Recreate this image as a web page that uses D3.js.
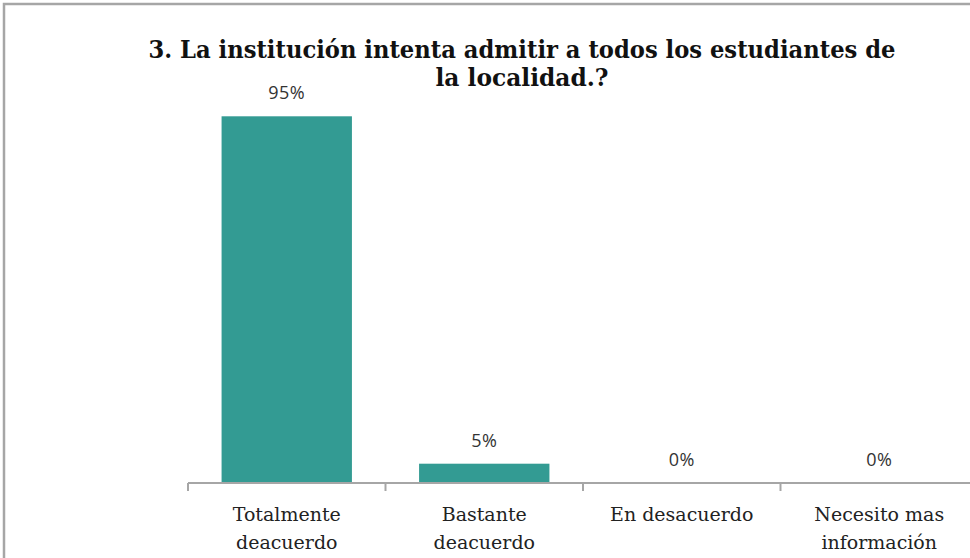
<!DOCTYPE html>
<html>
<head>
<meta charset="utf-8">
<script src="https://cdn.jsdelivr.net/npm/d3@7"></script>
<style>
  body { margin: 0; background: #fff; }
  svg { display: block; }
</style>
</head>
<body>
<svg id="chart" width="970" height="558"></svg>
<script>
// datos del grafico
var categories = ["Totalmente deacuerdo", "Bastante deacuerdo", "En desacuerdo", "Necesito mas información"];
var categoryLines = [["Totalmente", "deacuerdo"], ["Bastante", "deacuerdo"], ["En desacuerdo"], ["Necesito mas", "información"]];
var values = [95, 5, 0, 0];
var valueLabels = ["95%", "5%", "0%", "0%"];
var titleLines = ["3. La institución  intenta admitir  a todos los estudiantes de", "la localidad.?"];

var serif = '"DejaVu Serif", serif';

var svg = d3.select('#chart');

// marco exterior (el lado derecho e inferior quedan fuera)
svg.append('rect')
  .attr('x', 4).attr('y', 4)
  .attr('width', 1000).attr('height', 600)
  .style('fill', '#fff')
  .style('stroke', '#a6a6a6')
  .style('stroke-width', 2.5);

var left = 188, right = 978, baseY = 483;

var x = d3.scaleBand()
  .domain(categories)
  .range([left, right])
  .paddingInner(0.34)
  .paddingOuter(0.17);

var y = d3.scaleLinear()
  .domain([0, 100])
  .range([baseY, 97]);

// barras
svg.append('g').selectAll('rect')
  .data(values)
  .enter().append('rect')
  .attr('x', function(d, i) { return x(categories[i]); })
  .attr('y', function(d) { return y(d); })
  .attr('width', x.bandwidth())
  .attr('height', function(d) { return baseY - y(d); })
  .style('fill', '#339b93');

// etiquetas de valor
svg.append('g').selectAll('text')
  .data(values)
  .enter().append('text')
  .attr('x', function(d, i) { return x(categories[i]) + x.bandwidth() / 2; })
  .attr('y', function(d) { return y(d) - 17; })
  .attr('text-anchor', 'middle')
  .style('font-family', 'Open Sans, sans-serif')
  .style('font-size', '18px')
  .style('letter-spacing', '0.5px')
  .style('fill', '#333')
  .text(function(d, i) { return valueLabels[i]; });

// eje x
var axis = svg.append('g');
axis.append('line')
  .attr('x1', left).attr('x2', right)
  .attr('y1', baseY).attr('y2', baseY)
  .style('stroke', '#a6a6a6').style('stroke-width', 2);
d3.range(categories.length + 1).forEach(function(i) {
  var tx = left + i * (right - left) / categories.length;
  axis.append('line')
    .attr('x1', tx).attr('x2', tx)
    .attr('y1', baseY).attr('y2', baseY + 8)
    .style('stroke', '#a6a6a6').style('stroke-width', 2);
});

var catLabels = axis.selectAll('text.cat')
  .data(categories)
  .enter().append('text')
  .attr('class', 'cat')
  .attr('text-anchor', 'middle')
  .style('font-family', serif)
  .style('font-size', '19px')
  .style('fill', '#222');
catLabels.each(function(d, i) {
  var cx = left + (i + 0.5) * (right - left) / categories.length;
  var t = d3.select(this);
  categoryLines[i].forEach(function(line, j) {
    t.append('tspan')
      .attr('x', cx)
      .attr('y', 521 + j * 28)
      .text(line);
  });
});

// titulo
var titleWidths = [747, 173];
titleLines.forEach(function(line, i) {
  svg.append('text')
    .attr('x', 522)
    .attr('y', 58 + i * 28)
    .attr('text-anchor', 'middle')
    .attr('textLength', titleWidths[i])
    .attr('lengthAdjust', 'spacingAndGlyphs')
    .style('font-family', serif)
    .style('font-weight', 'bold')
    .style('font-size', '24px')
    .style('fill', '#111')
    .text(line);
});
</script>
</body>
</html>
